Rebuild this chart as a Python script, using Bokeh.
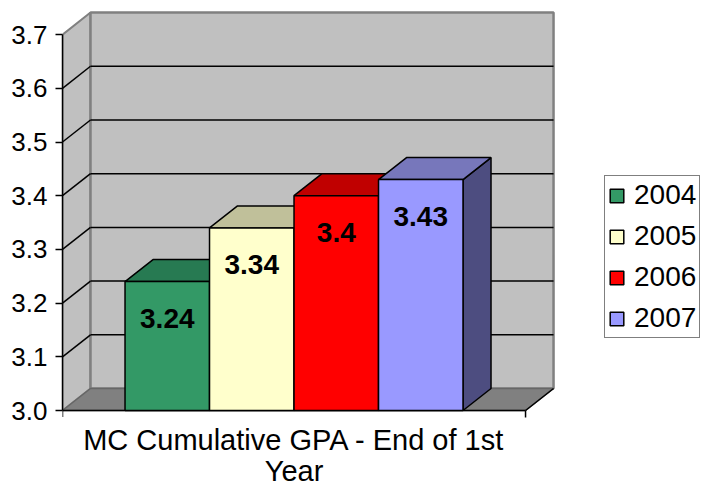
from bokeh.plotting import figure
from bokeh.models import Range1d, FixedTicker, NumeralTickFormatter, ColumnDataSource
from bokeh.core.properties import value
from bokeh.embed import file_html
from bokeh.resources import INLINE

# ---- data ----
years = ["2004", "2005", "2006", "2007"]
gpa = [3.24, 3.34, 3.4, 3.43]
front_colors = ["#339966", "#ffffcc", "#ff0000", "#9999ff"]
top_colors = ["#277a52", "#c0c09a", "#c00000", "#7777bb"]
side_colors = ["#1f5c3e", "#9a9a7a", "#900000", "#4d4d80"]
y_ticks = [3.0, 3.1, 3.2, 3.3, 3.4, 3.5, 3.6, 3.7]
x_title = ["MC Cumulative GPA - End of 1st", "Year"]

FONT = "Liberation Sans"
W, H = 710, 489
GAP = 0.74      # space between box edge and bars (in bar widths)
DX = 0.3314     # depth offset, x (bar widths)
DY = 0.041      # depth offset, y (GPA units)
YMIN, YMAX = y_ticks[0], y_ticks[-1]

n = len(years)
x0s = [float(i) for i in range(n)]
x1s = [i + 1.0 for i in range(n)]
box_l, box_r = -GAP, n + GAP

p = figure(width=W, height=H, output_backend="svg", toolbar_location=None,
           x_range=Range1d(-GAP, 6.929), y_range=Range1d(2.8529, 3.7635),
           min_border_left=62, min_border_right=0, min_border_top=0,
           min_border_bottom=0, x_axis_location=None)
p.grid.visible = False
p.outline_line_color = None
p.background_fill_color = "white"
p.border_fill_color = "white"

ax = p.yaxis[0]
ax.ticker = FixedTicker(ticks=y_ticks)
ax.bounds = (YMIN, YMAX)
ax.formatter = NumeralTickFormatter(format="0.0")
ax.major_label_text_font = FONT
ax.major_label_text_font_size = "26px"
ax.major_label_text_color = "black"
ax.axis_line_color = "black"
ax.axis_line_width = 1.5
ax.major_tick_line_color = "black"
ax.major_tick_line_width = 1.5
ax.major_tick_out = 7
ax.major_tick_in = 0
ax.minor_tick_line_color = None
ax.major_label_standoff = 8

WALL = "#c0c0c0"
EDGE = "#808080"

# left wall
p.patch([box_l, box_l, box_l + DX, box_l + DX], [YMIN, YMAX, YMAX + DY, YMIN + DY],
        fill_color=WALL, line_color=EDGE, line_width=2)
# back wall
p.quad(left=[box_l + DX], right=[box_r + DX], bottom=[YMIN + DY], top=[YMAX + DY],
       fill_color=WALL, line_color=EDGE, line_width=2.5)
# floor
p.patch([box_l, box_l + DX, box_r + DX, box_r], [YMIN, YMIN + DY, YMIN + DY, YMIN],
        fill_color="#808080", line_color="#666666", line_width=1.5)

inner = y_ticks[1:-1]
p.segment(x0=[box_l + DX] * len(inner), x1=[box_r + DX] * len(inner),
          y0=[t + DY for t in inner], y1=[t + DY for t in inner],
          line_color="black", line_width=1.5)
p.segment(x0=[box_l] * len(inner), x1=[box_l + DX] * len(inner),
          y0=inner, y1=[t + DY for t in inner],
          line_color="black", line_width=1.5)

# x axis line + end ticks + right floor edge
p.segment(x0=[box_l, box_l, box_r, box_r], x1=[box_r, box_l, box_r, box_r + DX],
          y0=[YMIN, YMIN, YMIN, YMIN], y1=[YMIN, YMIN - 0.012, YMIN - 0.013, YMIN + DY],
          line_color="black", line_width=1.5)

# bars: sides, tops, fronts
side_xs = [[x1, x1 + DX, x1 + DX, x1] for x1 in x1s]
side_ys = [[YMIN, YMIN + DY, v + DY, v] for v in gpa]
p.patches(side_xs, side_ys, fill_color=side_colors, line_color="black", line_width=1.5)

top_xs = [[x0, x0 + DX, x1 + DX, x1] for x0, x1 in zip(x0s, x1s)]
top_ys = [[v, v + DY, v + DY, v] for v in gpa]
p.patches(top_xs, top_ys, fill_color=top_colors, line_color="black", line_width=1.5)

src = ColumnDataSource(dict(left=x0s, right=x1s, bottom=[YMIN] * n, top=gpa,
                            color=front_colors, year=years))
p.quad(left="left", right="right", bottom="bottom", top="top", source=src,
       fill_color="color", line_color="black", line_width=1.5, legend_field="year")

# value labels
p.text(x=[i + 0.5 for i in range(n)], y=gpa, text=[f"{v:g}" for v in gpa],
       text_font=value(FONT), text_font_style="bold", text_font_size="28px",
       text_align="center", text_baseline="middle", y_offset=37, text_color="black")

# category title under the box
p.text(x=[(box_l + box_r) / 2] * len(x_title), y=[YMIN] * len(x_title), text=x_title,
       text_font=value(FONT), text_font_size="29px", text_align="center",
       text_baseline="middle", y_offset=[29, 60], text_color="black")

lg = p.legend[0]
lg.location = (542, 151)
lg.border_line_color = "black"
lg.border_line_width = 1.5
lg.glyph_width = 17
lg.glyph_height = 17
lg.label_text_font = FONT
lg.label_text_font_size = "28px"
lg.label_text_color = "black"
lg.padding = 3
lg.spacing = 9
lg.label_standoff = 9
lg.margin = 0
lg.background_fill_alpha = 1.0

open("out.html", "w").write(file_html(p, INLINE))
